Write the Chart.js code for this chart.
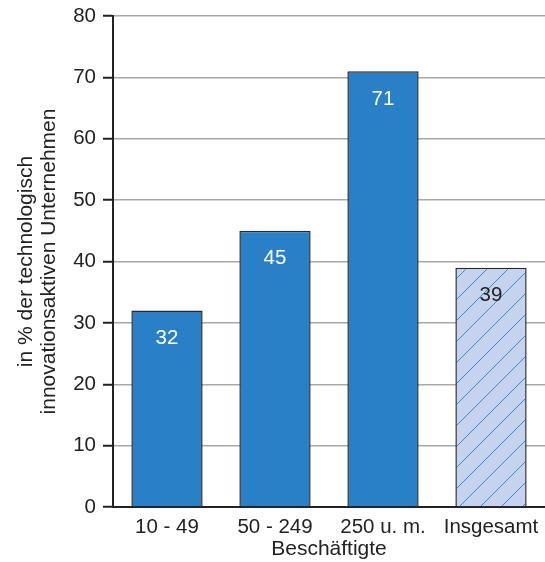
<!DOCTYPE html>
<html>
<head>
<meta charset="utf-8">
<script src="https://cdn.jsdelivr.net/npm/chart.js@4/dist/chart.umd.min.js"></script>
<style>
  html, body { margin: 0; padding: 0; background: #fff; }
  #wrap { width: 545px; height: 562px; }
</style>
</head>
<body>
<div id="wrap"><canvas id="c" width="545" height="562"></canvas></div>
<script>
// Innovationsaktive Unternehmen nach Beschäftigtengrößenklassen
const categories = ['10 - 49', '50 - 249', '250 u. m.', 'Insgesamt'];
const shares = [32, 45, 71, 39];
const yTicks = [0, 10, 20, 30, 40, 50, 60, 70, 80];
const yTitle = ['in % der technologisch', 'innovationsaktiven Unternehmen'];
const xTitle = 'Beschäftigte';

const FONT = '"Liberation Sans", Arial, sans-serif';
const BLUE = '#2a80c6';

// diagonal hatch for the total bar
function hatchPattern() {
  const s = 21;
  const p = document.createElement('canvas');
  p.width = s; p.height = s;
  const g = p.getContext('2d');
  g.fillStyle = '#c6d3ee';
  g.fillRect(0, 0, s, s);
  g.strokeStyle = '#3a8ad0';
  g.lineWidth = 1;
  g.beginPath();
  for (let k = -1; k <= 1; k++) {
    g.moveTo(k * s, s);
    g.lineTo(k * s + s, 0);
  }
  g.stroke();
  return g.createPattern(p, 'repeat');
}

const ctx = document.getElementById('c').getContext('2d');
const fills = shares.map((v, i) => i === 3 ? hatchPattern() : BLUE);

// value labels inside the bar tops
const valueLabels = {
  id: 'valueLabels',
  afterDatasetsDraw(chart) {
    const c = chart.ctx;
    const meta = chart.getDatasetMeta(0);
    c.save();
    c.font = '20.5px ' + FONT;
    c.textAlign = 'center';
    c.textBaseline = 'middle';
    meta.data.forEach((bar, i) => {
      c.fillStyle = i === 3 ? '#222' : '#fff';
      c.fillText(String(shares[i]), bar.x, bar.y + 28);
    });
    c.restore();
  }
};

new Chart(ctx, {
  type: 'bar',
  data: {
    labels: categories,
    datasets: [{
      data: shares,
      backgroundColor: fills,
      borderColor: '#2a2a2a',
      borderWidth: 1.5,
      borderSkipped: 'bottom',
      categoryPercentage: 0.66,
      barPercentage: 1.0
    }]
  },
  options: {
    responsive: false,
    animation: false,
    devicePixelRatio: 1,
    layout: { padding: { top: 16, right: 0, left: 15, bottom: 0 } },
    plugins: {
      legend: { display: false },
      tooltip: { enabled: false }
    },
    scales: {
      x: {
        grid: { display: false, drawTicks: false },
        border: { color: '#222', width: 2 },
        ticks: { color: '#222', font: { family: FONT, size: 20.5 }, padding: 8 },
        title: { display: true, text: xTitle, color: '#222', font: { family: FONT, size: 21 }, padding: { top: 2, bottom: 0 } },
        afterFit(s) { s.height = 55; s.paddingLeft = 0; s.paddingRight = 0; }
      },
      y: {
        min: 0, max: 80,
        afterBuildTicks(s) { s.ticks = yTicks.map(v => ({ value: v })); },
        grid: { color: '#a8a8a8', lineWidth: 1.5, tickColor: '#222', tickLength: 10, tickWidth: 2 },
        border: { color: '#222', width: 2 },
        ticks: { color: '#222', font: { family: FONT, size: 20.5 }, padding: 7 },
        title: { display: true, text: yTitle, color: '#222', font: { family: FONT, size: 21, lineHeight: 1.1 }, padding: { top: 0, bottom: 4 } },
        afterFit(s) { s.width = 98; s.paddingTop = 0; s.paddingBottom = 0; }
      }
    }
  },
  plugins: [valueLabels]
});
</script>
</body>
</html>
